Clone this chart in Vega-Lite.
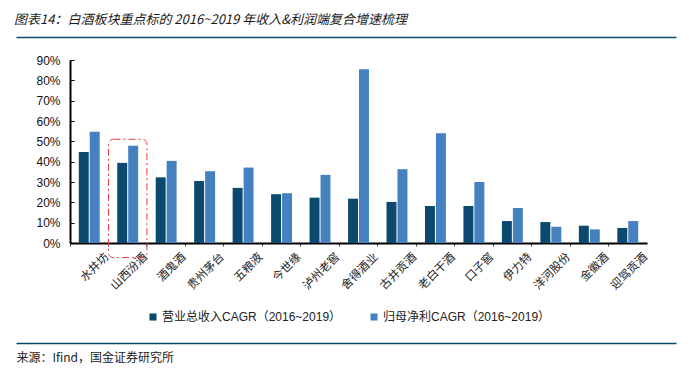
{
  "$schema": "https://vega.github.io/schema/vega-lite/v6.json",
  "width": 577,
  "height": 183,
  "autosize": {"type": "none"},
  "padding": {"left": 70, "top": 60, "right": 42, "bottom": 133},
  "background": "white",
  "title": {
    "text": "图表14：白酒板块重点标的 2016~2019 年收入&利润端复合增速梳理",
    "anchor": "start",
    "frame": "group",
    "dx": -56,
    "offset": 10,
    "font": "Noto Sans CJK SC",
    "fontSize": 13,
    "fontStyle": "italic",
    "fontWeight": "normal",
    "color": "#1a1a1a"
  },
  "config": {
    "view": {"stroke": null},
    "font": "Liberation Sans",
    "axisY": {
      "title": null,
      "format": ".0%",
      "values": [0, 0.1, 0.2, 0.3, 0.4, 0.5, 0.6, 0.7, 0.8, 0.9],
      "labelOverlap": false,
      "labelFont": "Liberation Sans",
      "labelFontSize": 12,
      "labelColor": "#111111",
      "labelPadding": 14,
      "labelBound": false,
      "domainColor": "#000000",
      "domainWidth": 2,
      "ticks": true,
      "tickSize": -4,
      "tickColor": "#000000",
      "tickWidth": 1,
      "grid": false
    }
  },
  "datasets": {
    "cagr": [
      {"name": "水井坊", "series": "营业总收入CAGR（2016~2019）", "value": 0.447},
      {"name": "水井坊", "series": "归母净利CAGR（2016~2019）", "value": 0.547},
      {"name": "山西汾酒", "series": "营业总收入CAGR（2016~2019）", "value": 0.394},
      {"name": "山西汾酒", "series": "归母净利CAGR（2016~2019）", "value": 0.478},
      {"name": "酒鬼酒", "series": "营业总收入CAGR（2016~2019）", "value": 0.323},
      {"name": "酒鬼酒", "series": "归母净利CAGR（2016~2019）", "value": 0.404},
      {"name": "贵州茅台", "series": "营业总收入CAGR（2016~2019）", "value": 0.305},
      {"name": "贵州茅台", "series": "归母净利CAGR（2016~2019）", "value": 0.353},
      {"name": "五粮液", "series": "营业总收入CAGR（2016~2019）", "value": 0.271},
      {"name": "五粮液", "series": "归母净利CAGR（2016~2019）", "value": 0.371},
      {"name": "今世缘", "series": "营业总收入CAGR（2016~2019）", "value": 0.240},
      {"name": "今世缘", "series": "归母净利CAGR（2016~2019）", "value": 0.245},
      {"name": "泸州老窖", "series": "营业总收入CAGR（2016~2019）", "value": 0.223},
      {"name": "泸州老窖", "series": "归母净利CAGR（2016~2019）", "value": 0.335},
      {"name": "舍得酒业", "series": "营业总收入CAGR（2016~2019）", "value": 0.218},
      {"name": "舍得酒业", "series": "归母净利CAGR（2016~2019）", "value": 0.854},
      {"name": "古井贡酒", "series": "营业总收入CAGR（2016~2019）", "value": 0.202},
      {"name": "古井贡酒", "series": "归母净利CAGR（2016~2019）", "value": 0.363},
      {"name": "老白干酒", "series": "营业总收入CAGR（2016~2019）", "value": 0.182},
      {"name": "老白干酒", "series": "归母净利CAGR（2016~2019）", "value": 0.540},
      {"name": "口子窖", "series": "营业总收入CAGR（2016~2019）", "value": 0.182},
      {"name": "口子窖", "series": "归母净利CAGR（2016~2019）", "value": 0.300},
      {"name": "伊力特", "series": "营业总收入CAGR（2016~2019）", "value": 0.108},
      {"name": "伊力特", "series": "归母净利CAGR（2016~2019）", "value": 0.172},
      {"name": "洋河股份", "series": "营业总收入CAGR（2016~2019）", "value": 0.103},
      {"name": "洋河股份", "series": "归母净利CAGR（2016~2019）", "value": 0.080},
      {"name": "金徽酒", "series": "营业总收入CAGR（2016~2019）", "value": 0.085},
      {"name": "金徽酒", "series": "归母净利CAGR（2016~2019）", "value": 0.067},
      {"name": "迎驾贡酒", "series": "营业总收入CAGR（2016~2019）", "value": 0.074},
      {"name": "迎驾贡酒", "series": "归母净利CAGR（2016~2019）", "value": 0.108}
    ],
    "note": [
      {"name": "山西汾酒", "top": 0.51, "bottom": -0.072}
    ]
  },
  "layer": [
    {
      "layer": [
        {
          "data": {"name": "cagr"},
          "mark": {"type": "bar"},
          "encoding": {
            "x": {
              "field": "name",
              "type": "nominal",
              "sort": null,
              "scale": {
                "domain": ["水井坊", "山西汾酒", "酒鬼酒", "贵州茅台", "五粮液", "今世缘", "泸州老窖", "舍得酒业", "古井贡酒", "老白干酒", "口子窖", "伊力特", "洋河股份", "金徽酒", "迎驾贡酒"],
                "paddingInner": 0,
                "paddingOuter": 0
              },
              "axis": {
                "title": "来源：Ifind，国金证券研究所",
                "titleFont": "Noto Sans CJK SC",
                "titleFontSize": 12,
                "titleFontWeight": "normal",
                "titleColor": "#222222",
                "titleAnchor": "start",
                "titleAlign": "left",
                "titleBaseline": "middle",
                "titleX": -54,
                "titleY": 114,
                "bandPosition": 0,
                "labelOffset": 18,
                "labelAngle": -45,
                "labelAlign": "right",
                "labelBaseline": "middle",
                "labelFont": "Noto Sans CJK SC",
                "labelFontSize": 11.5,
                "labelColor": "#222222",
                "labelPadding": 9,
                "domainColor": "#000000",
                "domainWidth": 2,
                "ticks": true,
                "tickColor": "#444444",
                "tickSize": 3,
                "grid": false
              }
            },
            "xOffset": {
              "field": "series",
              "type": "nominal",
              "sort": ["营业总收入CAGR（2016~2019）", "归母净利CAGR（2016~2019）"],
              "scale": {"paddingInner": 0.09, "paddingOuter": 0.8}
            },
            "y": {
              "field": "value",
              "type": "quantitative",
              "scale": {"domain": [0, 0.9], "nice": false},
              "axis": {"values": [0, 0.1, 0.2, 0.3, 0.4, 0.5, 0.6, 0.7, 0.8, 0.9], "format": ".0%", "title": null}
            },
            "color": {
              "field": "series",
              "type": "nominal",
              "scale": {
                "domain": ["营业总收入CAGR（2016~2019）", "归母净利CAGR（2016~2019）"],
                "range": ["#0B4A6E", "#4581C0"]
              },
              "legend": {
                "orient": "none",
                "legendX": 77,
                "legendY": 251,
                "direction": "horizontal",
                "title": null,
                "symbolType": "square",
                "symbolSize": 50,
                "symbolStrokeWidth": 0,
                "labelFont": "Liberation Sans, Noto Sans CJK SC",
                "labelFontSize": 12,
                "labelColor": "#222222",
                "labelOffset": 3,
                "labelLimit": 0,
                "columnPadding": 26,
                "padding": 0
              }
            }
          }
        },
        {
          "data": {"name": "note"},
          "mark": {"type": "rect", "fillOpacity": 0, "stroke": "#E8383D", "strokeWidth": 1, "strokeDash": [7, 3, 2, 3], "cornerRadius": 5},
          "encoding": {
            "x": {"field": "name", "type": "nominal"},
            "y": {"field": "top", "type": "quantitative", "axis": {"values": [0, 0.1, 0.2, 0.3, 0.4, 0.5, 0.6, 0.7, 0.8, 0.9], "format": ".0%", "title": null}},
            "y2": {"field": "bottom"}
          }
        }
      ]
    },
    {
      "data": {"name": "cagr"},
      "mark": {"type": "rule", "opacity": 0},
      "encoding": {
        "x": {
          "field": "value",
          "type": "quantitative",
          "scale": {"domain": [0, 1], "range": [-54, 606], "nice": false, "zero": false},
          "axis": {"orient": "top", "offset": 23, "domain": true, "domainColor": "#0B4A6B", "domainWidth": 1.5, "ticks": false, "labels": false, "grid": false, "title": null}
        }
      }
    },
    {
      "data": {"name": "cagr"},
      "mark": {"type": "rule", "opacity": 0},
      "encoding": {
        "x": {
          "field": "value",
          "type": "quantitative",
          "scale": {"domain": [0, 1], "range": [-54, 606], "nice": false, "zero": false},
          "axis": {"orient": "bottom", "offset": 100, "domain": true, "domainColor": "#0B4A6B", "domainWidth": 1.5, "ticks": false, "labels": false, "grid": false, "title": null}
        }
      }
    }
  ],
  "resolve": {"scale": {"x": "independent"}, "axis": {"x": "independent"}}
}
